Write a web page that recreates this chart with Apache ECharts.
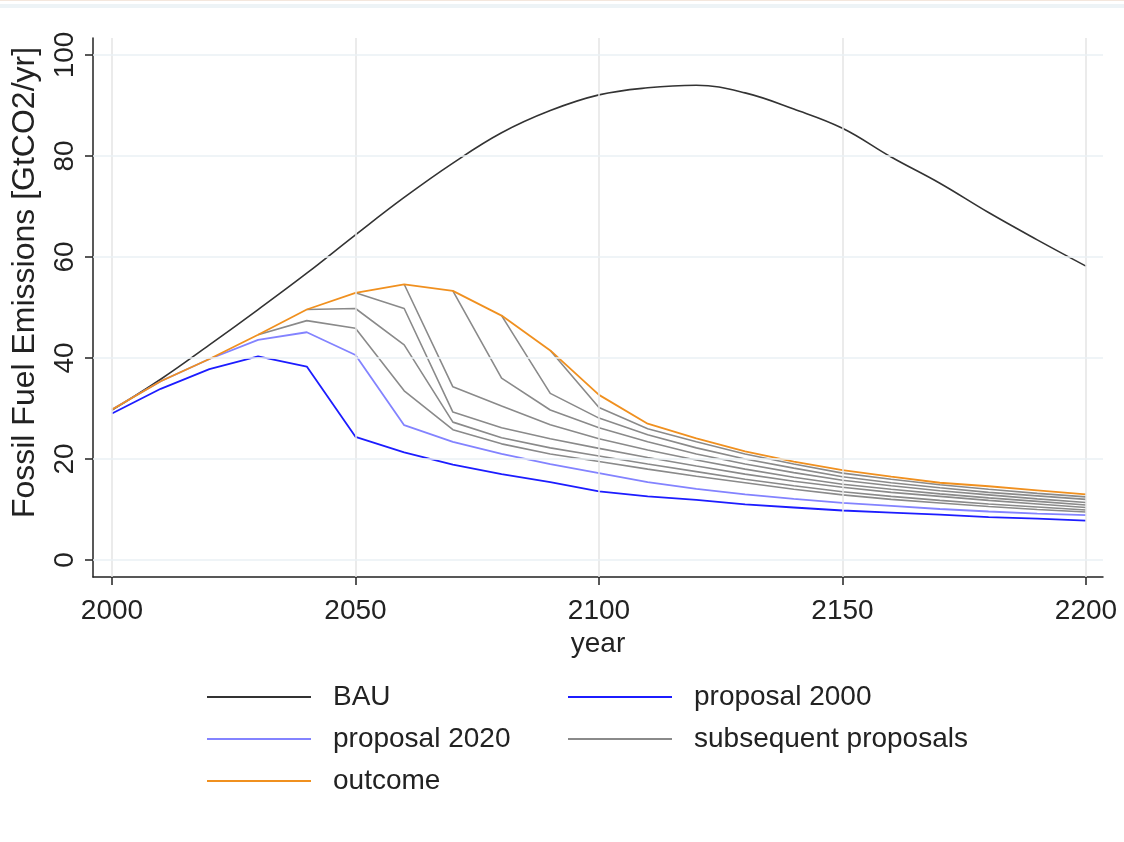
<!DOCTYPE html>
<html>
<head>
<meta charset="utf-8">
<script src="https://cdn.jsdelivr.net/npm/echarts@6/dist/echarts.min.js"></script>
<style>
html,body{margin:0;padding:0;background:#fff;}
#chart{width:1124px;height:842px;}
</style>
</head>
<body>
<div id="chart"></div>
<script>
// ---- data ----
const years = [2000,2010,2020,2030,2040,2050,2060,2070,2080,2090,2100,2110,2120,2130,2140,2150,2160,2170,2180,2190,2200];
const xTicks = [2000,2050,2100,2150,2200];
const yTicks = [0,20,40,60,80,100];

const bau          = [29.7,35.8,42.6,49.6,56.8,64.4,71.8,78.6,84.6,89.0,92.1,93.5,94.0,92.5,89.3,85.5,79.8,74.6,68.8,63.4,58.2];
const proposal2000 = [29.0,33.9,37.8,40.3,38.3,24.4,21.3,18.9,17.0,15.4,13.6,12.6,11.9,11.0,10.4,9.8,9.4,9.0,8.5,8.2,7.8];
const proposal2020 = [29.8,35.4,39.8,43.6,45.1,40.6,26.7,23.4,21.0,19.0,17.2,15.4,14.1,13.0,12.1,11.3,10.7,10.1,9.6,9.2,8.9];
const outcome      = [29.8,35.4,39.8,44.6,49.6,52.9,54.6,53.3,48.4,41.5,32.7,27.0,24.1,21.5,19.5,17.8,16.5,15.3,14.6,13.8,13.0];

// subsequent proposals: each starts in its proposal year
const proposal2030 = [44.6,47.4,45.9,33.5,25.8,23.0,21.0,19.5,18.0,16.6,15.3,14.0,12.9,12.0,11.3,10.6,10.0,9.5];
const proposal2040 = [49.6,49.8,42.6,27.3,24.2,22.2,20.6,19.0,17.5,16.0,14.7,13.5,12.6,11.8,11.1,10.5,9.9];
const proposal2050 = [52.9,49.8,29.3,26.2,24.0,22.1,20.3,18.6,17.0,15.6,14.4,13.4,12.6,11.8,11.1,10.4];
const proposal2060 = [54.6,34.3,30.5,26.8,24.0,21.8,19.8,18.0,16.4,15.0,14.0,13.1,12.3,11.6,10.9];
const proposal2070 = [53.3,36.0,29.7,26.2,23.4,21.0,19.0,17.3,15.8,14.7,13.7,12.9,12.1,11.4];
const proposal2080 = [48.4,33.0,28.1,24.8,22.2,20.0,18.2,16.5,15.3,14.3,13.4,12.7,12.0];
const proposal2090 = [41.5,30.2,26.0,23.4,21.0,19.0,17.2,16.0,14.9,14.0,13.2,12.5];
const subsequentStarts = [2030,2040,2050,2060,2070,2080,2090];
const subsequent = [proposal2030,proposal2040,proposal2050,proposal2060,proposal2070,proposal2080,proposal2090];

// ---- helpers ----
function pairs(vals, startYear){
  const s = years.indexOf(startYear === undefined ? years[0] : startYear);
  return vals.map((v,i)=>[years[s+i], v]);
}

const FONT = "'Liberation Sans', Arial, sans-serif";
const TXT = '#222';
const FS = 28;

function lineSeries(name, data, color, width, z, smooth){
  return {
    name: name, type: 'line', data: data, symbol: 'none', showSymbol: false,
    smooth: smooth || false,
    lineStyle: {color: color, width: width}, itemStyle: {color: color},
    z: z, silent: true, animation: false
  };
}

const series = [];
// grid lines drawn through the axes' scales
series.push({
  name: 'grid', type: 'line', data: [], symbol: 'none', z: 1, silent: true, animation: false,
  markLine: {
    silent: true, symbol: ['none','none'], label: {show: false}, animation: false,
    data: xTicks.map(v=>({xAxis: v, lineStyle: {color: '#e4e4e4', width: 1.5, type: 'solid'}}))
      .concat(yTicks.map(v=>({yAxis: v, lineStyle: {color: '#eaf1f4', width: 1.5, type: 'solid'}})))
  }
});
series.push(lineSeries('BAU', pairs(bau), '#333333', 1.6, 3, 0.4));
series.push(lineSeries('proposal 2000', pairs(proposal2000), '#1c1cff', 1.8, 3));
series.push(lineSeries('proposal 2020', pairs(proposal2020), '#8383ff', 1.8, 3));
subsequent.forEach((arr,k)=>{
  series.push(lineSeries('subsequent proposals', pairs(arr, subsequentStarts[k]), '#8a8a8a', 1.6, 3));
});
series.push(lineSeries('outcome', pairs(outcome), '#f0901f', 1.8, 4));

const legendCommon = {
  orient: 'vertical', icon: 'rect', itemWidth: 104, itemHeight: 2, itemGap: 12, padding: 0,
  selectedMode: false,
  textStyle: {fontFamily: FONT, fontSize: FS, color: TXT, lineHeight: 30, padding: [0,0,0,17]}
};

const option = {
  backgroundColor: '#ffffff',
  animation: false,
  textStyle: {fontFamily: FONT},
  grid: {left: 93, right: 21, top: 38, bottom: 265, containLabel: false},
  xAxis: {
    type: 'value', min: 1996.1, max: 2203.5,
    name: 'year', nameLocation: 'middle', nameGap: 53,
    nameTextStyle: {fontFamily: FONT, fontSize: FS, color: TXT},
    axisLine: {show: true, onZero: false, lineStyle: {color: '#222', width: 1.5}},
    axisTick: {show: true, customValues: xTicks, length: 8, lineStyle: {color: '#222', width: 1.5}},
    axisLabel: {customValues: xTicks, margin: 20, fontFamily: FONT, fontSize: FS, color: TXT,
                formatter: v => String(v)},
    splitLine: {show: false}
  },
  yAxis: {
    type: 'value', min: -3.366, max: 103.366,
    name: 'Fossil Fuel Emissions [GtCO2/yr]', nameLocation: 'middle', nameGap: 52, nameRotate: 90,
    nameTextStyle: {fontFamily: FONT, fontSize: 32, color: TXT, padding: [0,0,0,50]},
    axisLine: {show: true, onZero: false, lineStyle: {color: '#222', width: 1.5}},
    axisTick: {show: true, customValues: yTicks, length: 8, lineStyle: {color: '#222', width: 1.5}},
    axisLabel: {customValues: yTicks, rotate: 90, margin: 14, fontFamily: FONT, fontSize: FS, color: TXT,
                formatter: v => String(v)},
    splitLine: {show: false}
  },
  legend: [
    Object.assign({left: 207, top: 682, data: ['BAU','proposal 2020','outcome']}, legendCommon),
    Object.assign({left: 568, top: 682, data: ['proposal 2000','subsequent proposals']}, legendCommon)
  ],
  graphic: [
    {type: 'rect', shape: {x: 0, y: 0, width: 1124, height: 1}, style: {fill: '#f3e6dc'}, silent: true},
    {type: 'rect', shape: {x: 0, y: 4, width: 1124, height: 4}, style: {fill: '#edf3f6'}, silent: true}
  ],
  series: series
};

const chart = echarts.init(document.getElementById('chart'), null, {renderer: 'canvas'});
chart.setOption(option);
</script>
</body>
</html>
